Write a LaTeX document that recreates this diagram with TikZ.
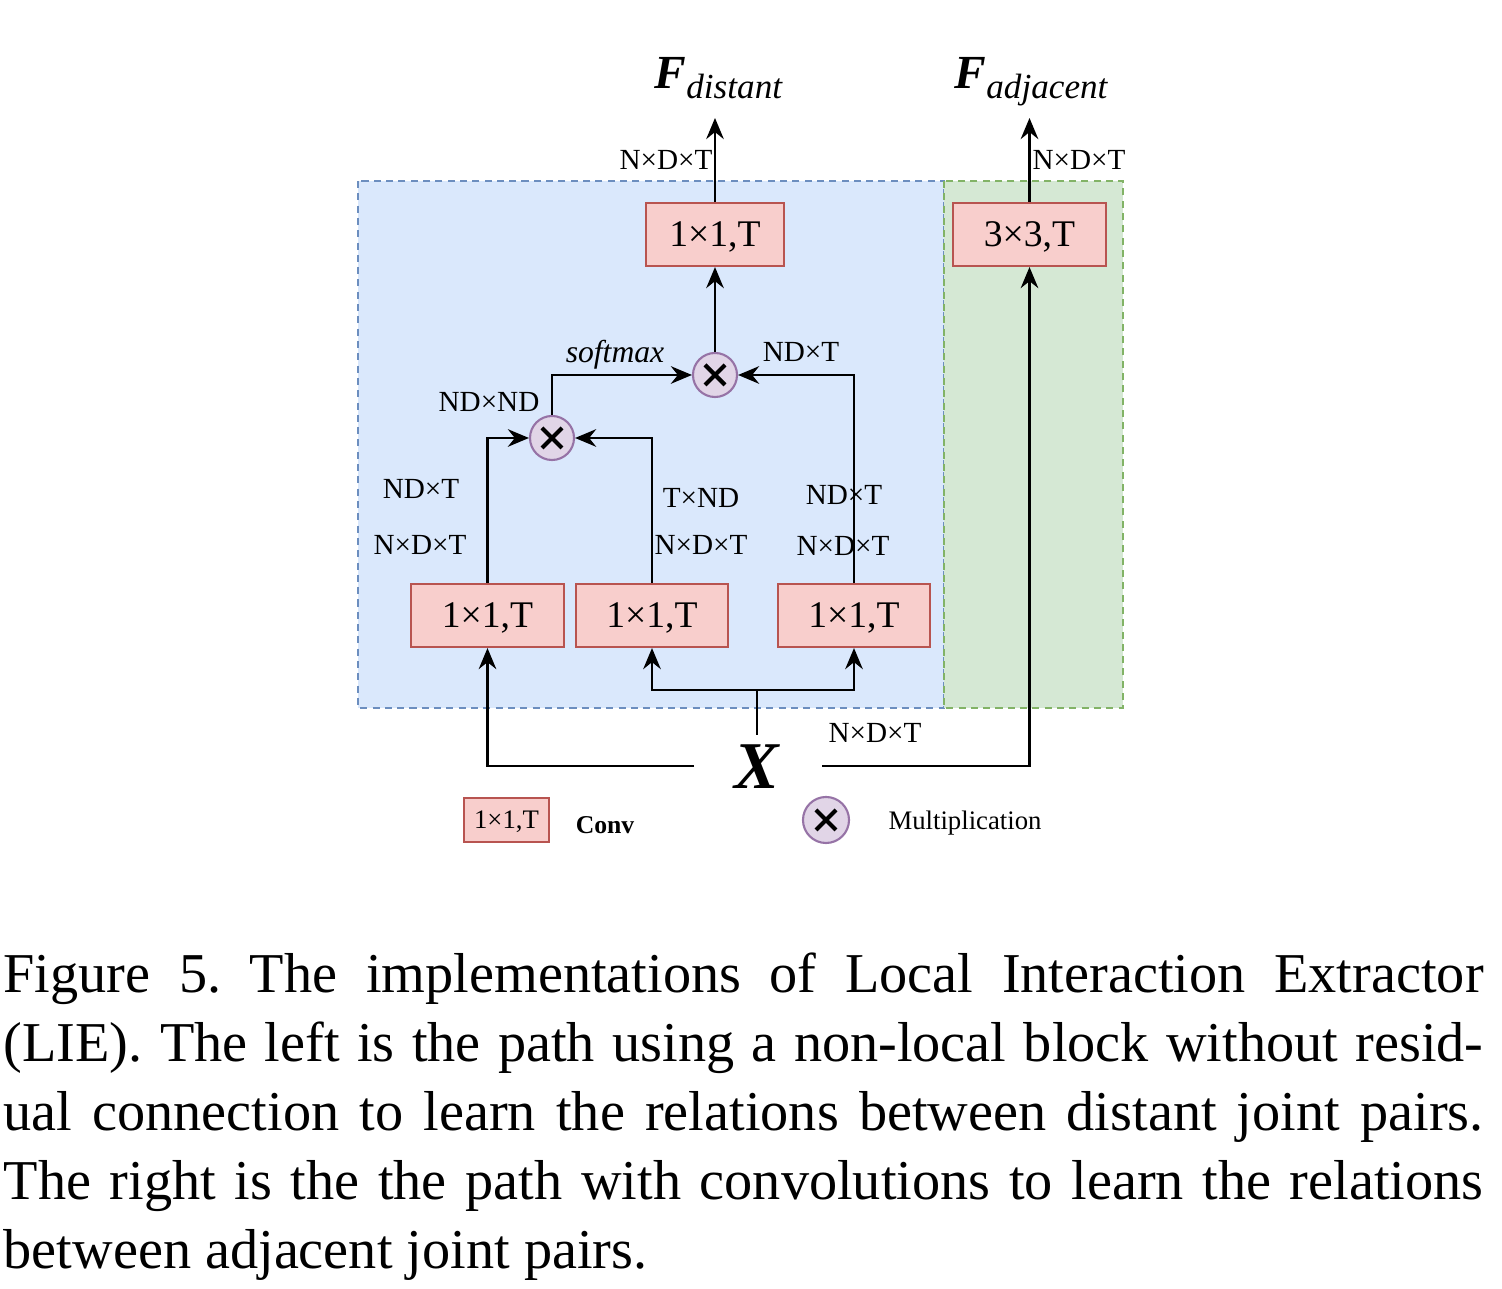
\documentclass[tikz,border=0pt]{standalone}
\usepackage{fontspec}
\setmainfont{Liberation Serif}
\usetikzlibrary{arrows.meta}
\definecolor{bluefill}{HTML}{DAE8FC}
\definecolor{blueborder}{HTML}{6C8EBF}
\definecolor{greenfill}{HTML}{D5E8D4}
\definecolor{greenborder}{HTML}{82B366}
\definecolor{convfill}{HTML}{F8CECC}
\definecolor{convborder}{HTML}{B85450}
\definecolor{multfill}{HTML}{E1D5E7}
\definecolor{multborder}{HTML}{9673A6}
\frenchspacing
\begin{document}
\begin{tikzpicture}[x=0.01cm,y=-0.01cm,
 conv/.style={draw=convborder,fill=convfill,line width=0.6pt,minimum width=1.53cm,minimum height=0.63cm,inner sep=0pt,text depth=0pt,font=\fontsize{10.7}{12}\selectfont},
 mult/.style={circle,draw=multborder,fill=multfill,line width=0.6pt,minimum size=0.44cm,inner sep=0pt,path picture={\draw[black,line width=1.2pt] (path picture bounding box.center) ++(-10,-10) -- ++(20,20) ++(0,-20) -- ++(-20,20);}},
 lbl/.style={font=\fontsize{8.3}{10}\selectfont,inner sep=0pt,anchor=base},
 arr/.style={-{Stealth[length=6pt,width=5pt,inset=2pt]},line width=0.7pt},
 ln/.style={line width=0.7pt},
 region/.style={line width=0.5pt,dash pattern=on 2pt off 1.5pt},
 captxt/.style={font=\fontsize{16}{19.6}\selectfont,inner sep=0pt,anchor=base west}]
\useasboundingbox (0,0) rectangle (1502,1289);
% regions
\fill[bluefill] (358,181) rectangle (944,708);
\draw[region,draw=blueborder] (358,181) rectangle (944,708);
\fill[greenfill] (944,181) rectangle (1123,708);
\draw[region,draw=greenborder] (944,181) rectangle (1123,708);
% conv boxes
\node[conv,minimum width=1.38cm] (top) at (715,234.5) {1×1,T};
\node[conv] (adj) at (1029.5,234.5) {3×3,T};
\node[conv] (b1) at (487.5,615.5) {1×1,T};
\node[conv,minimum width=1.52cm] (b2) at (652,615.5) {1×1,T};
\node[conv,minimum width=1.52cm] (b3) at (854,615.5) {1×1,T};
% multiplications
\node[mult] (c1) at (715,375) {};
\node[mult] (c2) at (552,438) {};
% outputs
\coordinate (fd) at (715,118);
\coordinate (fa) at (1029.5,118);
\node[inner sep=0pt,anchor=base west] (Fd) at (654,89) {{\fontsize{13.5}{14}\selectfont\bfseries\itshape F}\raisebox{-2.6pt}{\fontsize{10}{10}\selectfont\itshape distant}};
\node[inner sep=0pt,anchor=base west] (Fa) at (954,89) {{\fontsize{13.5}{14}\selectfont\bfseries\itshape F}\raisebox{-2.6pt}{\fontsize{10}{10}\selectfont\itshape adjacent}};
% input
\node[font=\fontsize{19}{19}\selectfont\bfseries\itshape,inner sep=0pt] (X) at (757,767) {X};
\coordinate (xl) at (694,766);
\coordinate (xr) at (822,766);
\coordinate (xt) at (757,735);
\coordinate (xj) at (757,690);
% connectors
\draw[arr] (top.north) -- (fd);
\draw[arr] (adj.north) -- (fa);
\draw[arr] (c1.north) -- (top.south);
\draw[arr] (b3.north) |- (c1.east);
\draw[arr] (c2.north) |- (c1.west);
\draw[arr] (b1.north) |- (c2.west);
\draw[arr] (b2.north) |- (c2.east);
\draw[arr] (xl) -| (b1.south);
\draw[arr] (xr) -| (adj.south);
\draw[ln] (xt) -- (xj);
\draw[arr] (xj) -| (b2.south);
\draw[arr] (xj) -| (b3.south);
% labels
\node[lbl] (l1) at (666,170) {N×D×T};
\node[lbl] (l2) at (1079,170) {N×D×T};
\node[lbl,font=\fontsize{9}{10}\selectfont\itshape] (l3) at (615,363) {softmax};
\node[lbl] (l4) at (801,362) {ND×T};
\node[lbl] (l5) at (489,412) {ND×ND};
\node[lbl] (l6) at (421,499) {ND×T};
\node[lbl] (l7) at (420,555) {N×D×T};
\node[lbl] (l8) at (701,508) {T×ND};
\node[lbl] (l9) at (701,555) {N×D×T};
\node[lbl] (l10) at (844,505) {ND×T};
\node[lbl] (l11) at (843,556) {N×D×T};
\node[lbl] (l12) at (875,743) {N×D×T};
% legend
\node[conv,minimum width=0.85cm,minimum height=0.44cm,font=\fontsize{7.6}{9}\selectfont] (leg) at (506.5,820) {1×1,T};
\node[font=\fontsize{7.3}{9}\selectfont\bfseries,inner sep=0pt] (legc) at (605,825) {Conv};
\node[mult,minimum size=0.46cm] (legm) at (826,820) {};
\node[font=\fontsize{7.6}{9}\selectfont,inner sep=0pt] (legt) at (965,823) {Multiplication};
% caption
\node[captxt] (cap1) at (3,993) {\makebox[14.79cm][s]{Figure 5. The implementations of Local Interaction Extractor}};
\node[captxt] (cap2) at (3,1062) {\makebox[14.79cm][s]{(LIE). The left is the path using a non-local block without resid-}};
\node[captxt] (cap3) at (3,1131) {\makebox[14.79cm][s]{ual connection to learn the relations between distant joint pairs.}};
\node[captxt] (cap4) at (3,1200) {\makebox[14.79cm][s]{The right is the the path with convolutions to learn the relations}};
\node[captxt] (cap5) at (3,1269) {between adjacent joint pairs.};
\end{tikzpicture}
\end{document}
